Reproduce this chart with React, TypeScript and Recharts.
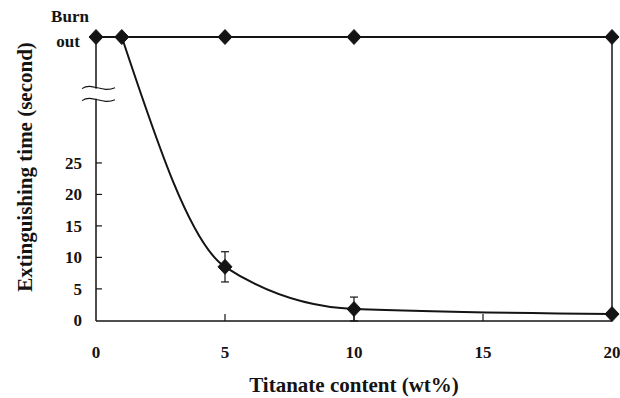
import React from 'react';
import {
  LineChart, Line, XAxis, YAxis, ReferenceLine, ReferenceDot, ErrorBar, Label,
} from 'recharts';

// "Burn out" is drawn on the axis as a fake value above the break
const BURN = 45;
const BREAK_AT = 36;

const titanate = [0, 1, 5, 10, 20];
const extinguish = [BURN, BURN, 8.5, 1.8, 1];
const extinguishErr = [0, 0, 2.4, 1.9, 0];
const burnOutX = [0, 5, 10, 20];

const xTicks = [0, 5, 10, 15, 20];
const yTicks = [0, 5, 10, 15, 20, 25, BURN];

const FONT = '"Liberation Serif", "Times New Roman", serif';
const INK = '#141414';

// first point sits on the burn-out line, the curve starts at x = 1
const decayData = titanate
  .map((x, i) => ({ x, y: extinguish[i], err: extinguishErr[i] }))
  .slice(1);
const burnData = burnOutX.map((x) => ({ x, y: BURN }));

const Diamond = (props: any) => {
  const { cx, cy, index } = props;
  if (cx == null || cy == null) return <g key={index} />;
  const w = 7;
  const h = 7.5;
  return (
    <path
      key={index}
      d={`M${cx},${cy - h} L${cx + w},${cy} L${cx},${cy + h} L${cx - w},${cy} Z`}
      fill={INK}
      stroke={INK}
      strokeWidth={1}
    />
  );
};

const XTick = (props: any) => {
  const { x, y, payload } = props;
  const inner = payload.value !== 0 && payload.value !== 20;
  return (
    <g>
      {inner && <line x1={x} x2={x} y1={y} y2={y - 7} stroke={INK} strokeWidth={1.2} />}
      <text x={x} y={y + 37} textAnchor="middle" fontFamily={FONT} fontWeight="bold" fontSize={17} fill={INK}>
        {payload.value}
      </text>
    </g>
  );
};

const YTick = (props: any) => {
  const { x, y, payload } = props;
  if (payload.value === BURN) {
    return (
      <g fontFamily={FONT} fontWeight="bold" fontSize={17} fill={INK}>
        <text x={x - 26} y={y - 15} textAnchor="middle">Burn</text>
        <text x={x - 28} y={y + 10} textAnchor="middle">out</text>
      </g>
    );
  }
  return (
    <g>
      {payload.value !== 0 && <line x1={x} x2={x + 6} y1={y} y2={y} stroke={INK} strokeWidth={1.2} />}
      <text x={x - 14} y={y + 6} textAnchor="end" fontFamily={FONT} fontWeight="bold" fontSize={17} fill={INK}>
        {payload.value}
      </text>
    </g>
  );
};

const BreakMark = (props: any) => {
  const { cx, cy } = props;
  if (cx == null || cy == null) return <g />;
  const wave = (dy: number) =>
    `M${cx - 14},${cy + dy + 1} C${cx - 4},${cy + dy - 6} ${cx + 6},${cy + dy + 6} ${cx + 19},${cy + dy}`;
  return (
    <g>
      <rect x={cx - 3} y={cy - 5} width={6} height={10} fill="#fff" />
      <path d={wave(-6)} fill="none" stroke={INK} strokeWidth={1.1} />
      <path d={wave(6)} fill="none" stroke={INK} strokeWidth={1.1} />
    </g>
  );
};

export default function App() {
  return (
    <div style={{ position: 'absolute', left: 0, top: 0, background: '#fff' }}>
      <LineChart width={620} height={398} margin={{ top: 37, right: 8, bottom: 0, left: 0 }}>
        <XAxis
          dataKey="x"
          type="number"
          domain={[0, 20]}
          ticks={xTicks}
          height={77}
          axisLine={{ stroke: INK, strokeWidth: 1.5 }}
          tickLine={false}
          tickSize={0}
          tickMargin={0}
          tick={<XTick />}
          interval={0}
        >
          <Label
            content={(p: any) => {
              const vb = p.viewBox;
              return (
                <text x={vb.x + vb.width / 2} y={vb.y + 71} textAnchor="middle" fontFamily={FONT} fontWeight="bold" fontSize={21} fill={INK}>
                  Titanate content (wt%)
                </text>
              );
            }}
          />
        </XAxis>
        <YAxis
          type="number"
          domain={[0, BURN]}
          ticks={yTicks}
          width={96}
          axisLine={{ stroke: INK, strokeWidth: 1.5 }}
          tickLine={false}
          tickSize={0}
          tickMargin={0}
          tick={<YTick />}
          interval={0}
        >
          <Label
            content={(p: any) => {
              const vb = p.viewBox;
              const cx = vb.x + 25;
              const cy = vb.y + vb.height / 2 - 12;
              return (
                <text x={cx} y={cy} transform={`rotate(-90 ${cx} ${cy})`} textAnchor="middle" dominantBaseline="central" fontFamily={FONT} fontWeight="bold" fontSize={21} fill={INK}>
                  Extinguishing time (second)
                </text>
              );
            }}
          />
        </YAxis>
        <ReferenceLine x={20} stroke={INK} strokeWidth={1.5} />
        <ReferenceDot x={0} y={BREAK_AT} r={0} shape={<BreakMark />} />
        <Line
          data={burnData}
          dataKey="y"
          type="linear"
          stroke={INK}
          strokeWidth={2}
          dot={Diamond}
          activeDot={false}
          isAnimationActive={false}
        />
        <Line
          data={decayData}
          dataKey="y"
          type="monotone"
          stroke={INK}
          strokeWidth={2}
          dot={Diamond}
          activeDot={false}
          isAnimationActive={false}
        >
          <ErrorBar dataKey="err" width={4} strokeWidth={1.2} stroke={INK} direction="y" />
        </Line>
      </LineChart>
    </div>
  );
}
